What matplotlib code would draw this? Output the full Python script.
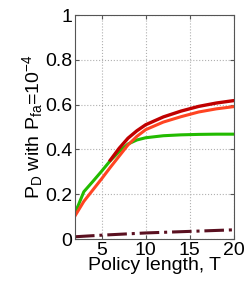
import matplotlib
matplotlib.use("Agg")
import matplotlib.pyplot as plt
import numpy as np

plt.rcParams['font.family'] = ['Liberation Sans', 'DejaVu Sans']
plt.rcParams['mathtext.fontset'] = 'custom'
plt.rcParams['mathtext.rm'] = 'Liberation Sans'
plt.rcParams['mathtext.it'] = 'Liberation Sans'

# values
T_green = [2, 3, 4, 5, 6, 7, 8, 9, 10, 12, 14, 16, 18, 20]
p_green = [0.115, 0.211, 0.256, 0.302, 0.35, 0.39, 0.424, 0.442, 0.452, 0.461, 0.465, 0.467, 0.468, 0.468]

T_orange = [2, 3, 4, 5, 6, 7, 8, 9, 10, 12, 14, 16, 18, 20]
p_orange = [0.103, 0.168, 0.218, 0.268, 0.32, 0.37, 0.42, 0.458, 0.488, 0.522, 0.546, 0.567, 0.581, 0.591]

T_red = [6, 7, 8, 9, 10, 12, 14, 16, 18, 20]
p_red = [0.352, 0.405, 0.45, 0.483, 0.51, 0.545, 0.571, 0.592, 0.607, 0.618]

T_base = [2, 5, 10, 15, 20]
p_base = [0.01, 0.017, 0.027, 0.034, 0.041]

fig = plt.figure(figsize=(2.49, 2.86), dpi=100)
ax = fig.add_axes([75/249, 1-239/286, 159/249, 224/286])

ax.plot(T_base, p_base, color='#5a1020', lw=2.2, ls='-.')
ax.plot(T_green, p_green, color='#22bb00', lw=2.2)
ax.plot(T_orange, p_orange, color='#ff4422', lw=2.2)
ax.plot(T_red, p_red, color='#c00000', lw=2.4)

ax.set_xlim(2, 20)
ax.set_ylim(0, 1)
ax.set_xticks([5, 10, 15, 20])
ax.set_yticks([0, 0.2, 0.4, 0.6, 0.8, 1])
ax.set_yticklabels(['0', '0.2', '0.4', '0.6', '0.8', '1'])
ax.grid(True, ls=':', color='#b0b0b0', lw=0.8)
ax.tick_params(direction='in', length=3, labelsize=14, pad=2, top=True, right=True, color='#555555')
for s in ax.spines.values():
    s.set_color('#555555')
    s.set_linewidth(0.8)

ax.set_xlabel('Policy length, T', fontsize=14, labelpad=-1)
ax.set_ylabel(r'P$_\mathregular{D}$ with P$_\mathregular{fa}$=10$^\mathregular{-4}$', fontsize=14, labelpad=0)

fig.savefig('out.png', dpi=100)
